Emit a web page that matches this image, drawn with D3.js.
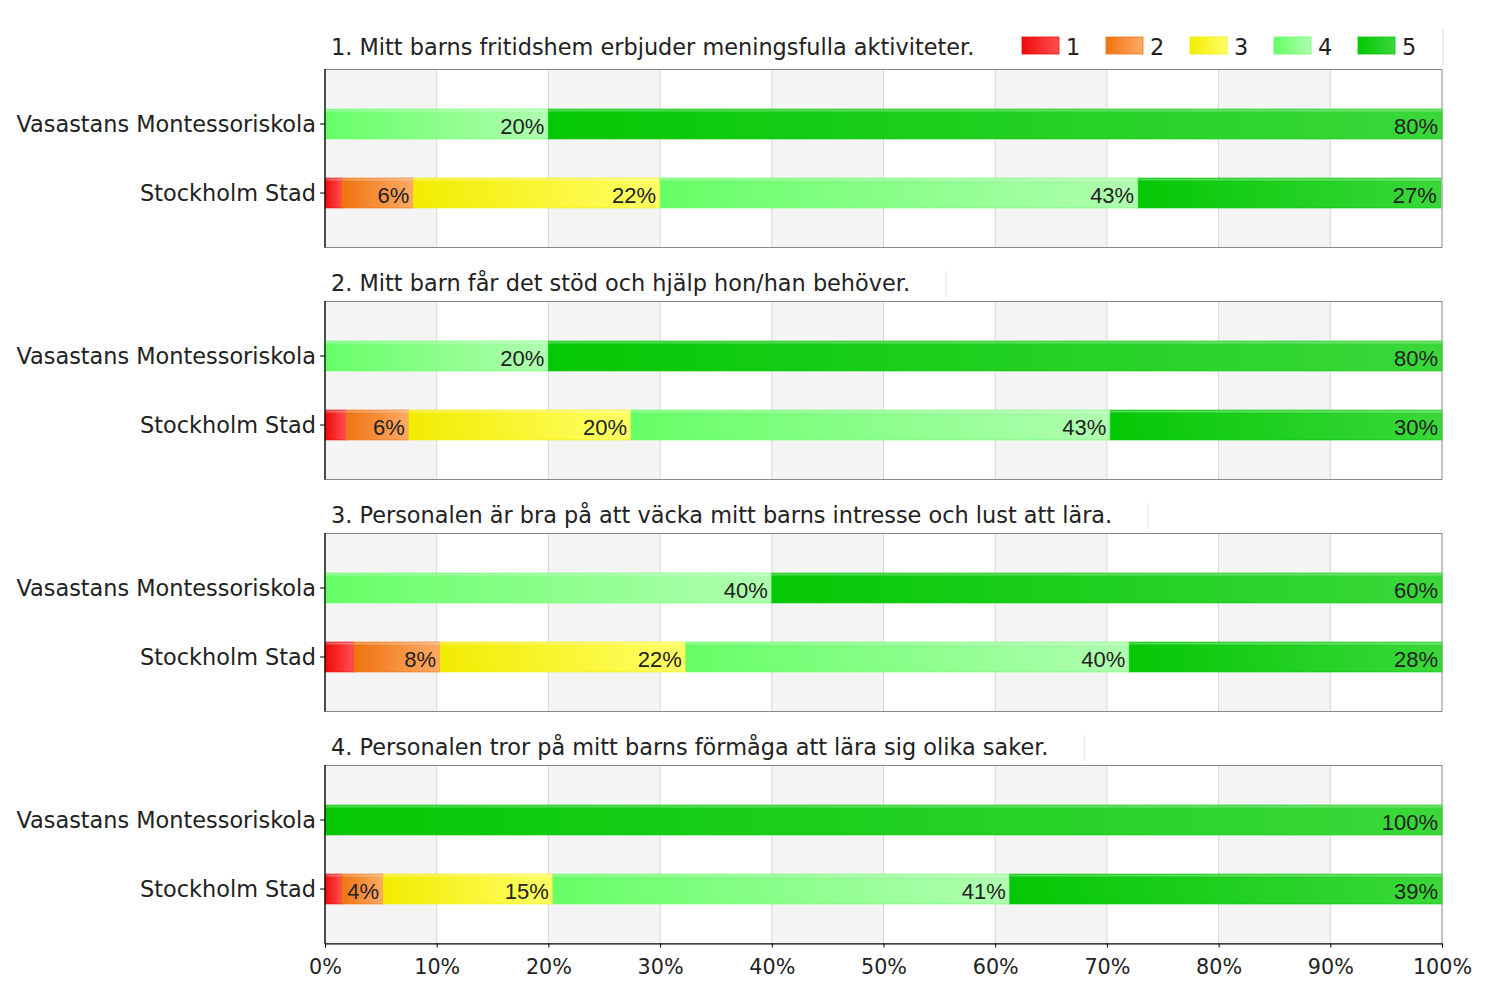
<!DOCTYPE html>
<html><head><meta charset="utf-8">
<script src="https://cdn.jsdelivr.net/npm/d3@7"></script>
<style>body{margin:0;background:#fff;}svg{display:block;font-family:"DejaVu Sans",Verdana,sans-serif;}</style>
</head><body>
<svg id="c" width="1500" height="999"></svg>
<script>
const questions = [
  "1. Mitt barns fritidshem erbjuder meningsfulla aktiviteter.",
  "2. Mitt barn får det stöd och hjälp hon/han behöver.",
  "3. Personalen är bra på att väcka mitt barns intresse och lust att lära.",
  "4. Personalen tror på mitt barns förmåga att lära sig olika saker."
];
const groups = ["Vasastans Montessoriskola", "Stockholm Stad"];
const levels = ["1", "2", "3", "4", "5"];
// percentage per level 1..5
const vasastans = [
  [0, 0, 0, 20, 80],
  [0, 0, 0, 20, 80],
  [0, 0, 0, 40, 60],
  [0, 0, 0, 0, 100]
];
const stockholm = [
  [1.5, 6.4, 22.1, 42.8, 27.1],
  [1.9, 5.6, 19.9, 42.9, 29.7],
  [2.6, 7.7, 22.0, 39.7, 28.0],
  [1.5, 3.7, 15.2, 40.9, 38.7]
];
const xTicks = [0, 10, 20, 30, 40, 50, 60, 70, 80, 90, 100];

const colorsDark = ["#ee0a0a", "#ee7410", "#f2ec00", "#66ff66", "#05c805"];
const colorsLight = ["#ff5050", "#ffaa66", "#ffff66", "#b0ffb0", "#3ad83a"];

const svg = d3.select("#c");
const defs = svg.append("defs");
levels.forEach((l, i) => {
  const g = defs.append("linearGradient").attr("id", "g" + i).attr("x1", 0).attr("x2", 1).attr("y1", 0).attr("y2", 0);
  g.append("stop").attr("offset", "0%").attr("stop-color", colorsDark[i]);
  g.append("stop").attr("offset", "100%").attr("stop-color", colorsLight[i]);
});

const left = 325, right = 1442;
const x = d3.scaleLinear().domain([0, 100]).range([left, right]);
const panelTop0 = 69, panelStep = 232, panelH = 178;
const yPos = d3.scalePoint().domain(groups).range([55, 124]);
const barH = 30;
const textFs = 22.4;

questions.forEach((q, qi) => {
  const top = panelTop0 + qi * panelStep;
  const p = svg.append("g").attr("transform", `translate(0,${top})`);
  for (let k = 0; k < 10; k += 2) {
    p.append("rect").attr("x", x(xTicks[k])).attr("y", 0)
      .attr("width", x(xTicks[k + 1]) - x(xTicks[k])).attr("height", panelH).attr("fill", "#f4f4f4");
  }
  p.selectAll("line.grid").data(xTicks.slice(1, 10)).join("line")
    .attr("x1", d => x(d)).attr("x2", d => x(d)).attr("y1", 0).attr("y2", panelH)
    .attr("stroke", "#d8d8d8").attr("stroke-width", 1);
  p.append("rect").attr("x", left).attr("y", 0.5).attr("width", right - left).attr("height", panelH)
    .attr("fill", "none").attr("stroke", "#888").attr("stroke-width", 1);

  const rows = [vasastans[qi], stockholm[qi]];
  rows.forEach((vals, gi) => {
    let cum = 0;
    const segs = vals.map((v, li) => { const s = { li, v, x0: cum, x1: cum + v }; cum += v; return s; });
    const cy = yPos(groups[gi]);
    const bg = p.append("g");
    segs.filter(s => s.v > 0).forEach(s => {
      bg.append("rect").attr("x", x(s.x0)).attr("y", cy - barH / 2)
        .attr("width", x(s.x1) - x(s.x0)).attr("height", barH)
        .attr("fill", `url(#g${s.li})`).attr("stroke", colorsDark[s.li]).attr("stroke-width", 0.8).attr("stroke-opacity", 0.7);
      bg.append("rect").attr("x", x(s.x0)).attr("y", cy - barH / 2 + 0.5)
        .attr("width", x(s.x1) - x(s.x0)).attr("height", 2).attr("fill", "#fff").attr("opacity", 0.3);
      if (s.v >= 3) {
        bg.append("text").attr("x", x(s.x1) - 4).attr("y", cy + 10)
          .attr("text-anchor", "end").attr("font-size", 22).attr("fill", "#222")
          .attr("font-family", "Liberation Sans, Arial, sans-serif")
          .text(Math.round(s.v) + "%");
      }
    });
  });

  p.append("line").attr("x1", left).attr("x2", left).attr("y1", 0).attr("y2", panelH + 0.5)
    .attr("stroke", "#000").attr("stroke-width", 1.2);
  groups.forEach(gname => {
    const cy = yPos(gname);
    p.append("line").attr("x1", left - 5).attr("x2", left).attr("y1", cy).attr("y2", cy).attr("stroke", "#000");
    p.append("text").attr("x", left - 9).attr("y", cy + 8).attr("text-anchor", "end")
      .attr("font-size", textFs).attr("fill", "#222").text(gname);
  });

  const t = svg.append("text").attr("x", 331).attr("y", top - (qi === 0 ? 14 : 10))
    .attr("font-size", textFs).attr("fill", "#222").text(q);
  const tw = t.node().getComputedTextLength();
  const lineX = qi === 0 ? 1443 : 331 + tw + 36;
  svg.append("line").attr("x1", lineX).attr("x2", lineX).attr("y1", top - (qi === 0 ? 40 : 30)).attr("y2", top - 4)
    .attr("stroke", "#eee").attr("stroke-width", 2);
});

const lastBottom = panelTop0 + 3 * panelStep + panelH + 0.5;
const ax = svg.append("g").attr("transform", `translate(0,${lastBottom})`)
  .call(d3.axisBottom(x).tickValues(xTicks).tickSize(4).tickFormat(d => d + "%"));
ax.select(".domain").attr("stroke", "#000").attr("stroke-width", 1.2);
ax.selectAll("text").attr("font-size", 20.7).attr("fill", "#222").attr("font-family", "DejaVu Sans, Verdana, sans-serif").attr("dy", "1.15em");

const lg = svg.append("g").attr("transform", "translate(1022,37)");
levels.forEach((l, i) => {
  const gx = i * 84;
  lg.append("rect").attr("x", gx).attr("y", 0).attr("width", 37).attr("height", 17)
    .attr("fill", `url(#g${i})`).attr("stroke", colorsDark[i]).attr("stroke-width", 0.8);
  lg.append("text").attr("x", gx + 44).attr("y", 18).attr("font-size", textFs).attr("fill", "#222").text(l);
});
</script>
</body></html>
